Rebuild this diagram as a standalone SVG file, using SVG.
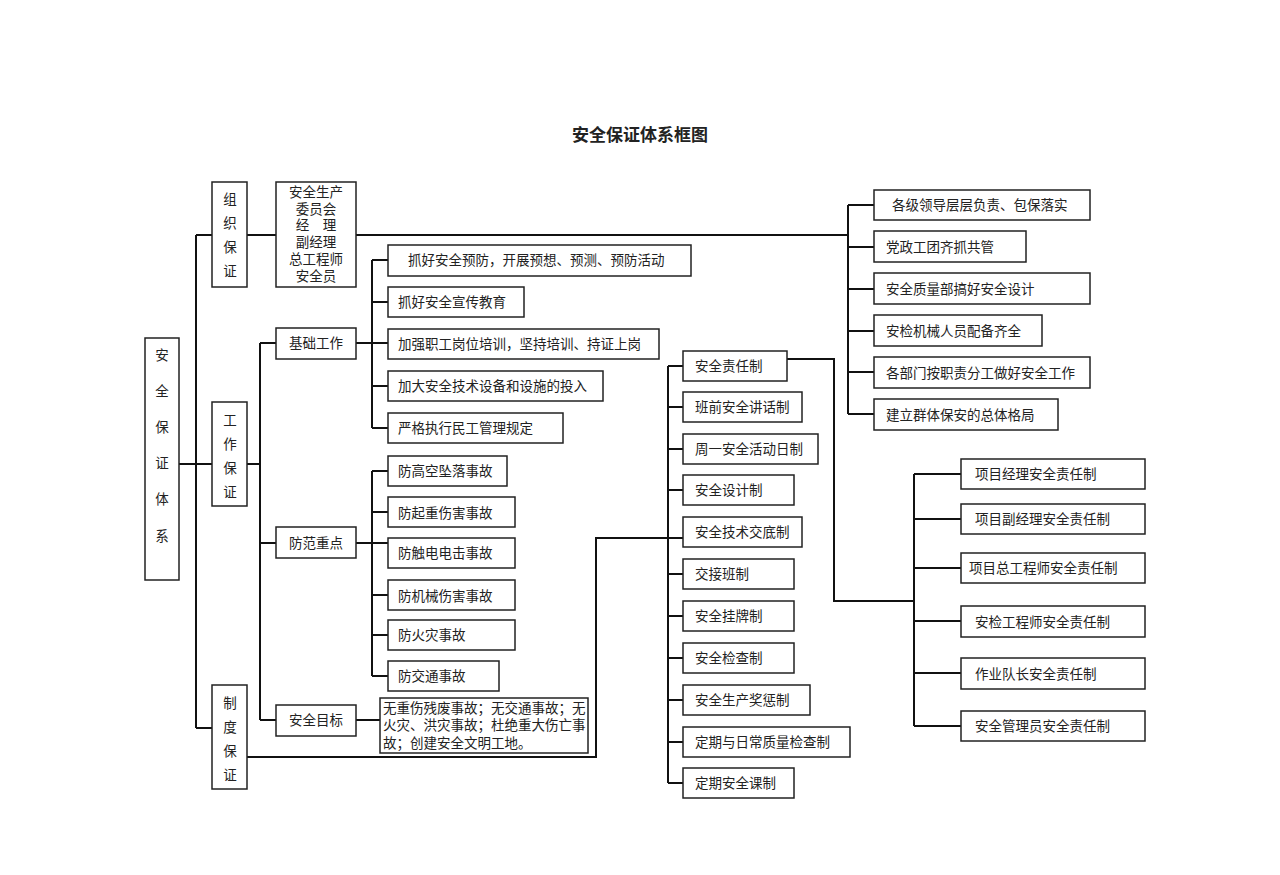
<svg xmlns="http://www.w3.org/2000/svg" width="1280" height="875" viewBox="0 0 1280 875">
<style>
rect{fill:#fff;stroke:#222;stroke-width:1.5}
text{font-family:"Liberation Serif","Noto Sans CJK SC",serif;font-size:13.5px;fill:#222}
.c{text-anchor:middle}
#connectors path{fill:none;stroke:#111;stroke-width:2}
</style>
<rect x="0" y="0" width="1280" height="875" style="stroke:none"/>
<text x="640" y="141" class="c" style="font-size:17px;font-weight:bold">安全保证体系框图</text>
<g id="connectors">
<path d="M179 464H196M196 235V728M196 235H212M196 464H212M196 728H212"/>
<path d="M247 235H276M356 235H848M848 205V414M848 205H874M848 247H874M848 289H874M848 331H874M848 372H874M848 414H874"/>
<path d="M247 464H260M260 343V720M260 343H276M260 543H276M260 720H276"/>
<path d="M356 343H388M372 260V428M372 260H388M372 302H388M372 386H388M372 428H388"/>
<path d="M356 543H388M372 471V676M372 471H388M372 512H388M372 595H388M372 635H388M372 676H388"/>
<path d="M356 720H380"/>
<path d="M247 757H596V538H683M668 366V783M668 366H683M668 407H683M668 449H683M668 490H683M668 574H683M668 616H683M668 658H683M668 700H683M668 742H683M668 783H683"/>
<path d="M787 359H834V601H914M914 474V726M914 474H961M914 519H961M914 568H961M914 621H961M914 673H961M914 726H961"/>
</g>
<g id="n-root"><rect x="145" y="338" width="34" height="242"/><text class="c" x="162" y="360">安</text><text class="c" x="162" y="396">全</text><text class="c" x="162" y="432">保</text><text class="c" x="162" y="468">证</text><text class="c" x="162" y="504">体</text><text class="c" x="162" y="541">系</text></g>
<g id="n-zz"><rect x="212" y="182" width="35" height="105"/><text class="c" x="230" y="204">组</text><text class="c" x="230" y="228">织</text><text class="c" x="230" y="252">保</text><text class="c" x="230" y="276">证</text></g>
<g id="n-gz"><rect x="212" y="402" width="35" height="104"/><text class="c" x="230" y="425">工</text><text class="c" x="230" y="449">作</text><text class="c" x="230" y="473">保</text><text class="c" x="230" y="497">证</text></g>
<g id="n-zd"><rect x="212" y="685" width="35" height="104"/><text class="c" x="230" y="708">制</text><text class="c" x="230" y="732">度</text><text class="c" x="230" y="756">保</text><text class="c" x="230" y="780">证</text></g>
<g id="n-wyh"><rect x="276" y="182" width="80" height="105"/><text class="c" x="316" y="197">安全生产</text><text class="c" x="316" y="214">委员会</text><text class="c" x="316" y="230">经　理</text><text class="c" x="316" y="247">副经理</text><text class="c" x="316" y="264">总工程师</text><text class="c" x="316" y="281">安全员</text></g>
<g id="n-jc"><rect x="276" y="328" width="80" height="31"/><text class="c" x="316" y="348">基础工作</text></g>
<g id="n-ff"><rect x="276" y="527" width="80" height="31"/><text class="c" x="316" y="548">防范重点</text></g>
<g id="n-mb"><rect x="276" y="705" width="80" height="31"/><text class="c" x="316" y="725">安全目标</text></g>
<g id="n-mbt"><rect x="380" y="698" width="208" height="55"/><text x="383" y="713">无重伤残废事故；无交通事故；无</text><text x="383" y="730">火灾、洪灾事故；杜绝重大伤亡事</text><text x="383" y="748">故；创建安全文明工地。</text></g>
<g id="n-j1"><rect x="388" y="245" width="303" height="31"/><text x="408" y="265">抓好安全预防，开展预想、预测、预防活动</text></g>
<g id="n-j2"><rect x="388" y="287" width="136" height="30"/><text x="398" y="307">抓好安全宣传教育</text></g>
<g id="n-j3"><rect x="388" y="329" width="271" height="30"/><text x="398" y="349">加强职工岗位培训，坚持培训、持证上岗</text></g>
<g id="n-j4"><rect x="388" y="371" width="215" height="30"/><text x="398" y="391">加大安全技术设备和设施的投入</text></g>
<g id="n-j5"><rect x="388" y="413" width="175" height="30"/><text x="398" y="433">严格执行民工管理规定</text></g>
<g id="n-f1"><rect x="388" y="456" width="119" height="30"/><text x="398" y="476">防高空坠落事故</text></g>
<g id="n-f2"><rect x="388" y="497" width="127" height="30"/><text x="398" y="518">防起重伤害事故</text></g>
<g id="n-f3"><rect x="388" y="538" width="127" height="30"/><text x="398" y="558">防触电电击事故</text></g>
<g id="n-f4"><rect x="388" y="580" width="127" height="30"/><text x="398" y="601">防机械伤害事故</text></g>
<g id="n-f5"><rect x="388" y="620" width="127" height="30"/><text x="398" y="640">防火灾事故</text></g>
<g id="n-f6"><rect x="388" y="661" width="111" height="30"/><text x="398" y="681">防交通事故</text></g>
<g id="n-r1"><rect x="874" y="190" width="216" height="30"/><text x="892" y="210">各级领导层层负责、包保落实</text></g>
<g id="n-r2"><rect x="874" y="231" width="152" height="31"/><text x="886" y="252">党政工团齐抓共管</text></g>
<g id="n-r3"><rect x="874" y="273" width="216" height="31"/><text x="886" y="294">安全质量部搞好安全设计</text></g>
<g id="n-r4"><rect x="874" y="315" width="168" height="31"/><text x="886" y="336">安检机械人员配备齐全</text></g>
<g id="n-r5"><rect x="874" y="357" width="216" height="31"/><text x="886" y="378">各部门按职责分工做好安全工作</text></g>
<g id="n-r6"><rect x="874" y="399" width="184" height="31"/><text x="886" y="420">建立群体保安的总体格局</text></g>
<g id="n-z1"><rect x="683" y="351" width="104" height="30"/><text x="695" y="371">安全责任制</text></g>
<g id="n-z2"><rect x="683" y="392" width="119" height="30"/><text x="695" y="412">班前安全讲话制</text></g>
<g id="n-z3"><rect x="683" y="434" width="135" height="30"/><text x="695" y="454">周一安全活动日制</text></g>
<g id="n-z4"><rect x="683" y="475" width="111" height="30"/><text x="695" y="495">安全设计制</text></g>
<g id="n-z5"><rect x="683" y="517" width="119" height="30"/><text x="695" y="537">安全技术交底制</text></g>
<g id="n-z6"><rect x="683" y="559" width="111" height="30"/><text x="695" y="579">交接班制</text></g>
<g id="n-z7"><rect x="683" y="601" width="111" height="30"/><text x="695" y="621">安全挂牌制</text></g>
<g id="n-z8"><rect x="683" y="643" width="111" height="30"/><text x="695" y="663">安全检查制</text></g>
<g id="n-z9"><rect x="683" y="685" width="127" height="30"/><text x="695" y="705">安全生产奖惩制</text></g>
<g id="n-z10"><rect x="683" y="727" width="167" height="30"/><text x="695" y="747">定期与日常质量检查制</text></g>
<g id="n-z11"><rect x="683" y="768" width="111" height="30"/><text x="695" y="788">定期安全课制</text></g>
<g id="n-p1"><rect x="961" y="459" width="184" height="30"/><text x="975" y="479">项目经理安全责任制</text></g>
<g id="n-p2"><rect x="961" y="504" width="184" height="30"/><text x="975" y="524">项目副经理安全责任制</text></g>
<g id="n-p3"><rect x="961" y="553" width="184" height="30"/><text x="969" y="573">项目总工程师安全责任制</text></g>
<g id="n-p4"><rect x="961" y="606" width="184" height="31"/><text x="975" y="627">安检工程师安全责任制</text></g>
<g id="n-p5"><rect x="961" y="658" width="184" height="31"/><text x="975" y="679">作业队长安全责任制</text></g>
<g id="n-p6"><rect x="961" y="711" width="184" height="30"/><text x="975" y="731">安全管理员安全责任制</text></g>
</svg>
